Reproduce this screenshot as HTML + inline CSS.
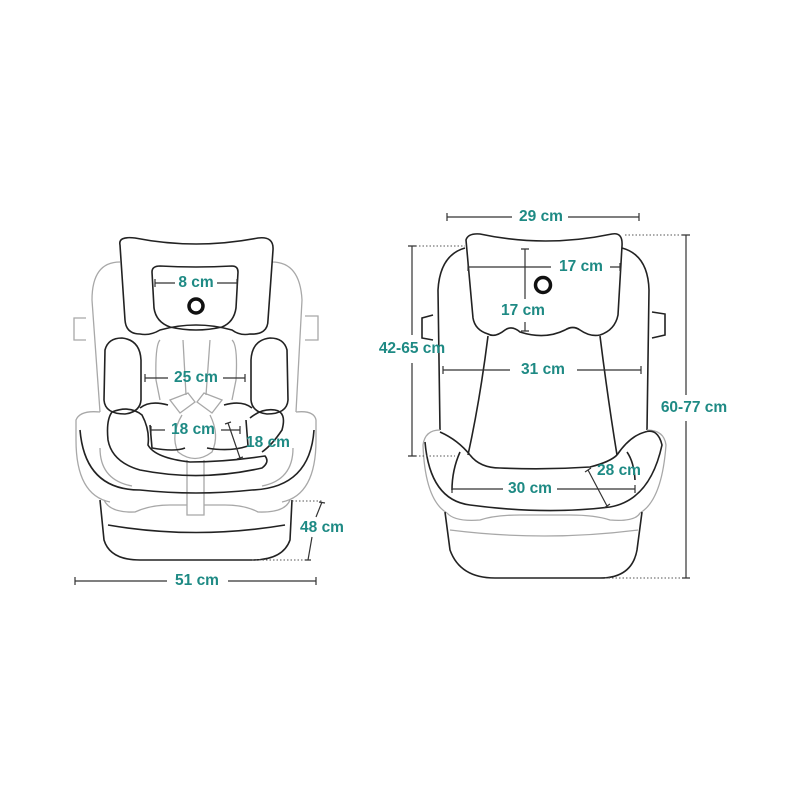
<!DOCTYPE html>
<html><head><meta charset="utf-8"><style>
html,body{margin:0;padding:0;background:#fff;}
svg{display:block}
text{font-family:"Liberation Sans",sans-serif;font-weight:bold;font-size:15.5px;fill:#1e8a84;text-anchor:middle;dominant-baseline:middle}
.k{fill:none;stroke:#222;stroke-width:1.6}
.g{fill:none;stroke:#a8a8a8;stroke-width:1.3}
.d{stroke:#333;stroke-width:1.2;fill:none}
.dot{stroke:#555;stroke-width:1;stroke-dasharray:1.5 2;fill:none}
</style></head><body>
<svg width="800" height="800" viewBox="0 0 800 800">
<rect width="800" height="800" fill="#fff"/>
<!-- LEFT SEAT -->
<path class="g" d="M100,412 L92,300 Q92,262 120,262 M272,262 Q300,262 302,300 L296,412"/>
<path class="g" d="M86,318 L74,318 L74,340 L86,340 M305,316 L318,316 L318,340 L305,340"/>
<path class="g" d="M160,340 Q155,345 156,380 L160,400 M232,340 Q238,345 236,380 L232,400"/>
<path class="g" d="M183,340 L186,395 M210,340 L206,395"/>
<path class="g" d="M170,400 L188,393 L195,402 L180,413 Z M222,400 L204,393 L197,402 L212,413 Z"/>
<path class="g" d="M182,415 Q170,435 178,452 Q195,465 212,452 Q220,435 210,415"/>
<path class="g" d="M187,460 L187,515 L204,515 L204,460"/>
<path class="k" d="M120,245 Q118,236 135,238 Q196,250 258,238 Q274,236 273,250 L268,320 Q268,335 250,334 Q240,336 232,330 Q196,320 160,330 Q150,336 140,334 Q126,334 125,320 Z"/>
<path class="k" d="M152,272 Q152,266 160,266 Q196,268 232,266 Q238,266 238,272 L236,308 Q234,322 222,327 Q196,333 170,327 Q156,322 154,308 Z"/>
<circle cx="196" cy="306" r="7" fill="none" stroke="#111" stroke-width="3.5"/>
<path class="k" d="M105,350 Q108,338 122,338 Q140,340 141,360 L141,400 Q140,412 125,414 Q105,414 104,400 Z"/>
<path class="k" d="M287,350 Q284,338 270,338 Q252,340 251,360 L251,400 Q252,412 267,414 Q287,414 288,400 Z"/>
<path class="k" d="M140,408 Q150,400 168,405 M224,405 Q242,400 252,408"/>
<path class="k" d="M150,425 L152,448 Q175,452 185,448 M207,448 Q230,452 248,446 L246,420"/>
<path class="k" d="M112,412 Q130,405 142,415 Q150,430 148,445 Q155,458 190,462 Q225,462 265,456 Q270,462 262,468 Q200,482 140,470 Q112,462 108,440 Q106,420 112,412 Z"/>
<path class="k" d="M250,418 Q262,408 275,410 Q287,412 282,430 Q272,445 262,452"/>
<path class="g" d="M100,412 Q80,410 76,420 L76,440 Q76,495 110,502 M296,412 Q314,410 316,420 L316,440 Q316,495 282,502"/>
<path class="k" d="M80,430 Q85,490 140,490 Q196,496 252,490 Q310,488 314,430"/>
<path class="g" d="M100,448 Q100,480 132,486 M293,448 Q293,480 262,486"/>
<path class="g" d="M104,500 Q110,513 135,512 Q150,505 170,505 L187,505 M204,505 L225,505 Q245,505 258,512 Q285,513 290,500"/>
<path class="k" d="M100,500 L104,540 Q110,560 140,560 L252,560 Q283,560 290,540 L292,500"/>
<path class="k" d="M108,525 Q196,540 285,525"/>
<!-- left dims -->
<path class="d" d="M155,283 L175,283 M217,283 L237,283 M155,279 L155,287 M237,279 L237,287"/>
<text x="196" y="283">8 cm</text>
<path class="d" d="M145,378 L168,378 M223,378 L245,378 M145,374 L145,382 M245,374 L245,382"/>
<text x="196" y="378">25 cm</text>
<path class="d" d="M151,430 L165,430 M221,430 L240,430 M151,426 L151,434 M240,426 L240,434"/>
<text x="193" y="430">18 cm</text>
<path class="d" d="M228,423 L240,458 M225,424 L231,422 M237,459 L243,457"/>
<text x="268" y="443">18 cm</text>
<path class="dot" d="M292,501 L322,501 M252,560 L307,560"/>
<path class="d" d="M322,502 L316,517 M312,537 L308,560 M319,502 L325,503 M305,560 L311,560"/>
<text x="322" y="528">48 cm</text>
<path class="d" d="M75,581 L167,581 M228,581 L316,581 M75,577 L75,585 M316,577 L316,585"/>
<text x="197" y="581">51 cm</text>

<!-- RIGHT SEAT -->
<path class="k" d="M465,248 Q440,255 438,290 L440,430 M622,248 Q648,255 649,290 L647,430"/>
<path class="k" d="M433,315 L422,318 L422,338 L433,340 M652,312 L665,314 L665,335 L652,338"/>
<path class="k" d="M488,336 Q480,400 468,455 M600,336 Q608,400 617,455"/>
<path class="k" d="M466,240 Q468,233 480,234 Q545,248 612,234 Q623,232 622,246 L618,315 Q615,330 600,335 Q590,337 580,330 Q573,325 565,330 Q545,340 520,332 Q512,325 505,330 Q495,338 488,334 Q475,330 473,318 Z"/>
<circle cx="543" cy="285" r="7.5" fill="none" stroke="#111" stroke-width="3.5"/>
<path class="g" d="M440,430 Q425,430 423,445 Q425,500 447,513 M647,430 Q664,430 666,445 Q662,500 640,513"/>
<path class="k" d="M425,442 Q430,500 470,505 Q545,515 610,507 Q650,500 662,445 Q658,428 645,432 Q630,436 617,455 M440,432 Q458,440 470,455"/>
<path class="k" d="M470,455 Q480,468 500,468 Q545,470 590,467 Q610,462 617,455"/>
<path class="k" d="M460,452 Q452,470 452,490 M627,452 Q634,462 635,480"/>
<path class="g" d="M447,513 Q455,522 480,520 Q495,515 520,515 L570,515 Q595,515 610,520 Q635,522 640,513"/>
<path class="g" d="M450,530 Q545,542 638,530"/>
<path class="k" d="M445,512 L450,550 Q460,578 495,578 L600,578 Q632,578 637,550 L642,512"/>
<!-- right dims -->
<path class="d" d="M447,217 L512,217 M568,217 L639,217 M447,213 L447,221 M639,213 L639,221"/>
<text x="541" y="217">29 cm</text>
<path class="d" d="M468,267 L551,267 M610,267 L620,267 M468,263 L468,271 M620,263 L620,271"/>
<text x="581" y="267">17 cm</text>
<path class="d" d="M525,249 L525,299 M525,322 L525,331 M521,249 L529,249 M521,331 L529,331"/>
<text x="523" y="311">17 cm</text>
<path class="d" d="M443,370 L510,370 M577,370 L641,370 M443,366 L443,374 M641,366 L641,374"/>
<text x="543" y="370">31 cm</text>
<path class="d" d="M452,489 L503,489 M557,489 L635,489 M452,485 L452,493 M635,485 L635,493"/>
<text x="530" y="489">30 cm</text>
<path class="d" d="M588,470 L607,506 M585,472 L591,468 M604,508 L610,504"/>
<text x="619" y="471">28 cm</text>
<path class="dot" d="M412,246 L465,246 M412,456 L455,456"/>
<path class="d" d="M412,246 L412,335 M412,363 L412,456 M408,246 L416,246 M408,456 L416,456"/>
<text x="412" y="349">42-65 cm</text>
<path class="dot" d="M625,235 L686,235 M605,578 L686,578"/>
<path class="d" d="M686,235 L686,395 M686,421 L686,578 M682,235 L690,235 M682,578 L690,578"/>
<text x="694" y="408">60-77 cm</text>
</svg>
</body></html>
